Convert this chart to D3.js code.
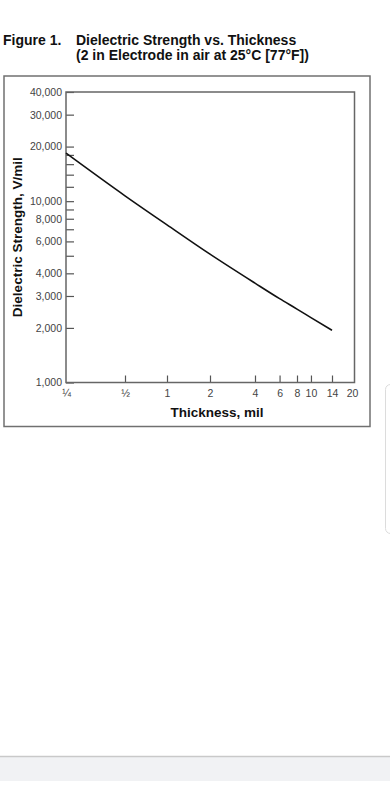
<!DOCTYPE html>
<html>
<head>
<meta charset="utf-8">
<script src="https://cdn.jsdelivr.net/npm/d3@7"></script>
<style>
  body { margin: 0; background: #fff; }
  svg { display: block; font-family: "Liberation Sans", Arial, sans-serif; }
</style>
</head>
<body>
<div id="chart"></div>
<script>
// data
const thickness = [0.25, 0.5, 1, 2, 4, 6, 8, 10, 14];
const strength = [18400, 10700, 7400, 5100, 3530, 2900, 2540, 2280, 1940];

const yMajor = [1000, 2000, 3000, 4000, 6000, 8000, 10000, 20000, 30000, 40000];
const yMinor = [5000, 7000, 9000, 12000, 14000, 16000, 18000];
const xTicks = [0.25, 0.5, 1, 2, 4, 6, 8, 10, 14, 20];
const xLabels = ['\u00BC', '\u00BD', '1', '2', '4', '6', '8', '10', '14', '20'];

const width = 390, height = 800;
const plot = {left: 66, top: 92, right: 354.5, bottom: 382.5};

const svg = d3.select('#chart').append('svg')
  .attr('width', width)
  .attr('height', height);

// page bits around the figure
svg.append('rect').attr('x', 0).attr('y', 756).attr('width', width).attr('height', 25).attr('fill', '#f1f2f4');
svg.append('line').attr('x1', 0).attr('x2', width).attr('y1', 756.5).attr('y2', 756.5).attr('stroke', '#c9c9c9').attr('stroke-width', 1.5);
svg.append('rect').attr('x', 385.5).attr('y', 384.5).attr('width', 30).attr('height', 149).attr('rx', 5)
  .attr('fill', 'none').attr('stroke', '#dcdcdc');

// title
const title = svg.append('text').attr('font-weight', 'bold').attr('font-size', 14).attr('fill', '#111');
title.append('tspan').attr('x', 3).attr('y', 45).text('Figure 1.');
title.append('tspan').attr('x', 76).attr('y', 45).text('Dielectric Strength vs. Thickness');
title.append('tspan').attr('x', 76).attr('y', 59.5).text('(2 in Electrode in air at 25\u00B0C [77\u00B0F])');

// outer frame
svg.append('rect').attr('x', 4).attr('y', 76).attr('width', 366).attr('height', 350.5)
  .attr('fill', 'none').attr('stroke', '#707070').attr('stroke-width', 1.5);

// scales (x is log, pieced to follow the printed tick spacing)
const x = d3.scaleLog()
  .domain([0.25, 0.5, 1, 2, 4, 8, 14, 20])
  .range([plot.left, 125, 167, 210, 255, 297, 332, 352]);
const y = d3.scaleLog()
  .domain([1000, 40000])
  .range([plot.bottom, plot.top]);

// y axis
svg.append('g')
  .attr('transform', `translate(${plot.left},0)`)
  .call(d3.axisLeft(y).tickValues(yMajor).tickFormat(d3.format(',')).tickSizeInner(-8).tickSizeOuter(0).tickPadding(4));
svg.append('g')
  .attr('transform', `translate(${plot.left},0)`)
  .call(d3.axisLeft(y).tickValues(yMinor).tickFormat('').tickSizeInner(-8).tickSizeOuter(0));

// x axis
const xAxis = svg.append('g')
  .attr('transform', `translate(0,${plot.bottom})`)
  .call(d3.axisBottom(x).tickValues(xTicks).tickFormat((d, i) => xLabels[i]).tickSizeInner(-7).tickSizeOuter(0).tickPadding(7));
xAxis.selectAll('.tick').filter(d => d === 0.25 || d === 20).select('line').remove();

svg.selectAll('.domain').remove();
svg.selectAll('.tick line').attr('stroke', '#555').attr('stroke-width', 1.2);
svg.selectAll('.tick text').attr('font-size', 10.5).attr('fill', '#444').attr('font-family', null);

// plot frame
svg.append('rect')
  .attr('x', plot.left).attr('y', plot.top)
  .attr('width', plot.right - plot.left).attr('height', plot.bottom - plot.top)
  .attr('fill', 'none').attr('stroke', '#666').attr('stroke-width', 1.5);

// curve
const line = d3.line()
  .x((d, i) => x(thickness[i]))
  .y(d => y(d))
  .curve(d3.curveMonotoneX);
svg.append('path')
  .datum(strength)
  .attr('d', line)
  .attr('fill', 'none')
  .attr('stroke', '#111')
  .attr('stroke-width', 1.6);

// axis titles
svg.append('text')
  .attr('transform', `translate(22,${(plot.top + plot.bottom) / 2}) rotate(-90)`)
  .attr('text-anchor', 'middle')
  .attr('font-weight', 'bold').attr('font-size', 13.5).attr('fill', '#111')
  .text('Dielectric Strength, V/mil');
svg.append('text')
  .attr('x', 217).attr('y', 417)
  .attr('text-anchor', 'middle')
  .attr('font-weight', 'bold').attr('font-size', 13.5).attr('fill', '#111')
  .text('Thickness, mil');
</script>
</body>
</html>
